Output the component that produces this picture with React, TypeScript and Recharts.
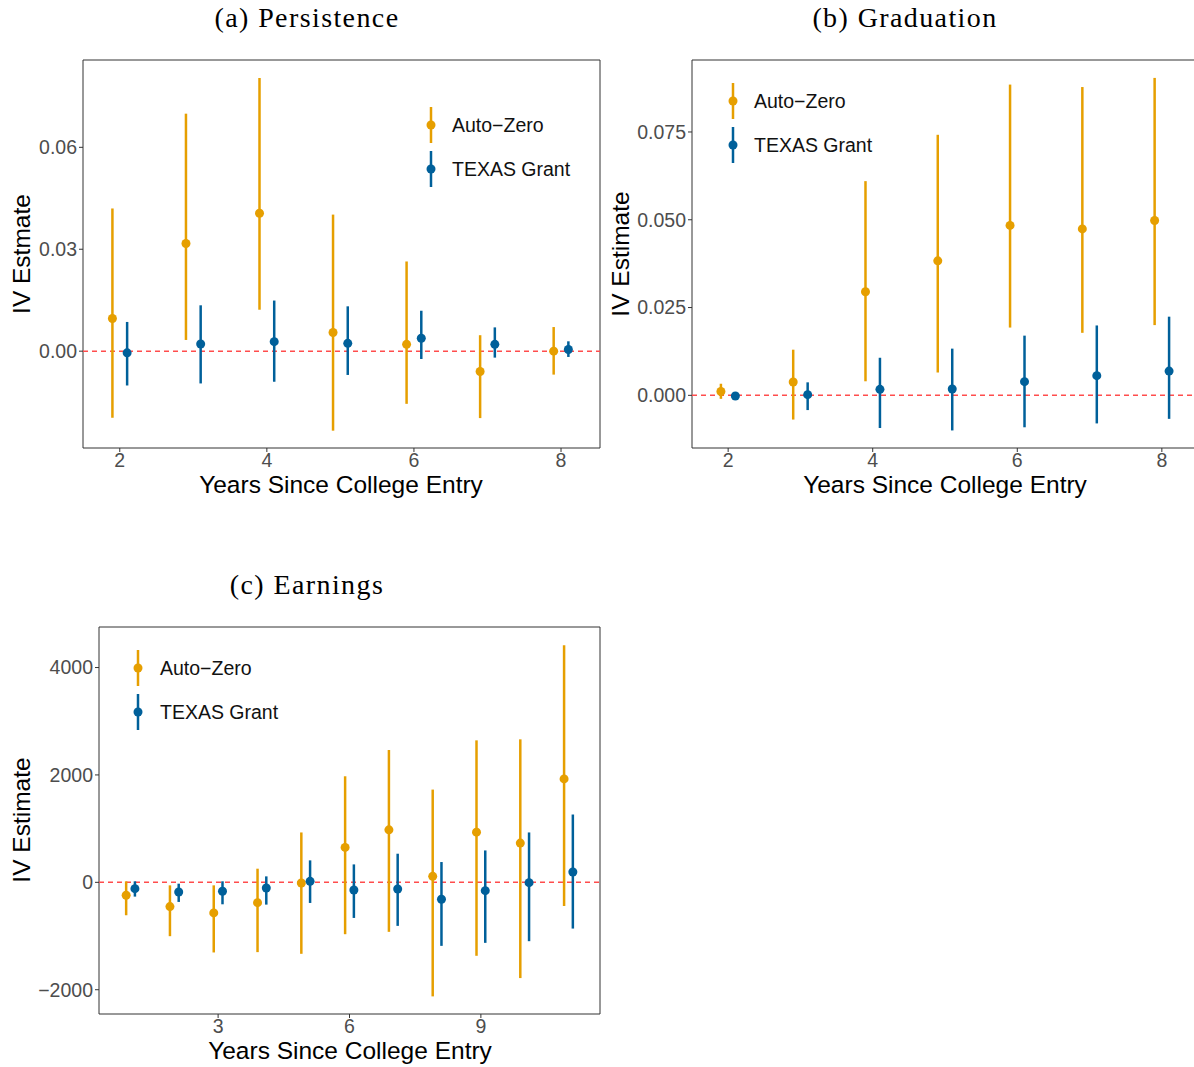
import { ScatterChart, Scatter, XAxis, YAxis, ErrorBar, ReferenceLine, ReferenceArea } from "recharts";

// years since college entry
const yearsShort = [2, 3, 4, 5, 6, 7, 8];
const yearsLong = [1, 2, 3, 4, 5, 6, 7, 8, 9, 10, 11];

// (a) Persistence
const persistAutoEst = [0.0096, 0.0317, 0.0406, 0.0055, 0.002, -0.006, 0.0];
const persistAutoLow = [-0.0196, 0.0033, 0.0122, -0.0234, -0.0155, -0.0197, -0.0069];
const persistAutoHigh = [0.042, 0.0699, 0.0804, 0.0402, 0.0264, 0.0047, 0.0071];
const persistTexasEst = [-0.0005, 0.0021, 0.0028, 0.0023, 0.0038, 0.002, 0.0005];
const persistTexasLow = [-0.0101, -0.0095, -0.009, -0.007, -0.0023, -0.0019, -0.0017];
const persistTexasHigh = [0.0086, 0.0135, 0.0149, 0.0132, 0.0119, 0.007, 0.0029];

// (b) Graduation
const gradAutoEst = [0.0011, 0.0038, 0.0295, 0.0383, 0.0484, 0.0474, 0.0498];
const gradAutoLow = [-0.001, -0.0069, 0.004, 0.0065, 0.0193, 0.0178, 0.02];
const gradAutoHigh = [0.0033, 0.013, 0.061, 0.0742, 0.0885, 0.0878, 0.0904];
const gradTexasEst = [-0.0002, 0.0002, 0.0017, 0.0018, 0.0039, 0.0056, 0.0069];
const gradTexasLow = [-0.0005, -0.0042, -0.0093, -0.01, -0.0091, -0.008, -0.0067];
const gradTexasHigh = [0.0001, 0.0037, 0.0107, 0.0133, 0.017, 0.0199, 0.0224];

// (c) Earnings
const earnAutoEst = [-241, -452, -570, -378, -12, 650, 978, 111, 935, 731, 1926];
const earnAutoLow = [-613, -1003, -1306, -1300, -1331, -966, -922, -2124, -1368, -1783, -440];
const earnAutoHigh = [19, -56, -56, 254, 929, 1975, 2464, 1727, 2644, 2663, 4415];
const earnTexasEst = [-118, -180, -167, -105, 19, -142, -124, -316, -155, -6, 192];
const earnTexasLow = [-266, -365, -409, -415, -384, -663, -811, -1183, -1127, -1096, -861];
const earnTexasHigh = [19, -25, 19, 111, 409, 334, 533, 378, 594, 929, 1263];

const ORANGE = "#E69F00";
const BLUE = "#00609A";
const SANS = "'Liberation Sans', Arial, sans-serif";
const SERIF = "'Liberation Serif', 'Times New Roman', serif";
const TICK_SIZE = 19.5;

const rows = (years: number[], est: number[], lo: number[], hi: number[], shift: number) =>
  years.map((yr, i) => ({ x: yr + shift, y: est[i], err: [est[i] - lo[i], hi[i] - est[i]] }));

const minus = (v: number, digits: number) => v.toFixed(digits).replace("-", "\u2212");

type PanelProps = {
  left: number;
  top: number;
  yAxisWidth: number;
  marginTop: number;
  marginRight: number;
  marginBottom: number;
  xDomain: [number, number];
  yDomain: [number, number];
  xTicks: number[];
  yTicks: number[];
  digits: number;
  auto: { x: number; y: number; err: number[] }[];
  texas: { x: number; y: number; err: number[] }[];
};

const dot = (color: string) => (p: any) => <circle cx={p.cx} cy={p.cy} r={4.5} fill={color} />;

const tickStyle = { fill: "#4D4D4D", fontSize: TICK_SIZE, fontFamily: SANS };

function Panel(p: PanelProps) {
  return (
    <div style={{ position: "absolute", left: p.left, top: p.top }}>
      <ScatterChart
        width={610}
        height={510}
        margin={{ top: p.marginTop, right: p.marginRight, bottom: p.marginBottom, left: 0 }}
      >
        <XAxis
          type="number"
          dataKey="x"
          domain={p.xDomain}
          ticks={p.xTicks}
          allowDataOverflow
          height={40}
          axisLine={false}
          tickLine={{ stroke: "#333" }}
          tickSize={4}
          tickMargin={1}
          fontSize={TICK_SIZE}
          tick={tickStyle}
        />
        <YAxis
          type="number"
          dataKey="y"
          domain={p.yDomain}
          ticks={p.yTicks}
          allowDataOverflow
          width={p.yAxisWidth}
          axisLine={false}
          tickLine={{ stroke: "#333" }}
          tickSize={4}
          tickMargin={2}
          fontSize={TICK_SIZE}
          tickFormatter={(v: number) => minus(v, p.digits)}
          tick={tickStyle}
        />
        <ReferenceLine y={0} stroke="#FF4D4D" strokeWidth={1.5} strokeDasharray="5 4" />
        <Scatter data={p.auto} fill={ORANGE} shape={dot(ORANGE)} isAnimationActive={false}>
          <ErrorBar dataKey="err" direction="y" width={0} stroke={ORANGE} strokeWidth={2.5} isAnimationActive={false} />
        </Scatter>
        <Scatter data={p.texas} fill={BLUE} shape={dot(BLUE)} isAnimationActive={false}>
          <ErrorBar dataKey="err" direction="y" width={0} stroke={BLUE} strokeWidth={2.5} isAnimationActive={false} />
        </Scatter>
        <ReferenceArea
          x1={p.xDomain[0]}
          x2={p.xDomain[1]}
          y1={p.yDomain[0]}
          y2={p.yDomain[1]}
          fill="none"
          fillOpacity={0}
          stroke="#333"
          strokeWidth={1}
          ifOverflow="visible"
        />
      </ScatterChart>
    </div>
  );
}

function Legend({ x, y, textX }: { x: number; y: number; textX: number }) {
  const item = (cy: number, color: string, label: string) => (
    <>
      <svg style={{ position: "absolute", left: x - 10, top: cy - 18 }} width={20} height={36}>
        <line x1={10} x2={10} y1={0} y2={36} stroke={color} strokeWidth={2.5} />
        <circle cx={10} cy={18} r={4.5} fill={color} />
      </svg>
      <div
        style={{
          position: "absolute",
          left: textX,
          top: cy - 12,
          height: 24,
          lineHeight: "24px",
          fontFamily: SANS,
          fontSize: 19.5,
          color: "#111",
          whiteSpace: "nowrap",
        }}
      >
        {label}
      </div>
    </>
  );
  return (
    <>
      {item(y, ORANGE, "Auto\u2212Zero")}
      {item(y + 44, BLUE, "TEXAS Grant")}
    </>
  );
}

function Text({ cx, cy, size, font, spacing, children, rotate }: any) {
  return (
    <div
      style={{
        position: "absolute",
        left: cx - 300,
        top: cy - 20,
        width: 600,
        height: 40,
        lineHeight: "40px",
        textAlign: "center",
        fontFamily: font,
        fontSize: size,
        letterSpacing: spacing,
        color: "#000",
        whiteSpace: "nowrap",
        transform: rotate ? "rotate(-90deg)" : undefined,
      }}
    >
      {children}
    </div>
  );
}

export default function App() {
  return (
    <div
      style={{
        position: "absolute",
        left: 0,
        top: 0,
        width: 1194,
        height: 1067,
        overflow: "hidden",
        background: "#fff",
      }}
    >
      <Panel
        left={0}
        top={0}
        yAxisWidth={83}
        marginTop={60}
        marginRight={10}
        marginBottom={22}
        xDomain={[1.5, 8.53]}
        yDomain={[-0.0285, 0.0857]}
        xTicks={[2, 4, 6, 8]}
        yTicks={[0, 0.03, 0.06]}
        digits={2}
        auto={rows(yearsShort, persistAutoEst, persistAutoLow, persistAutoHigh, -0.1)}
        texas={rows(yearsShort, persistTexasEst, persistTexasLow, persistTexasHigh, 0.1)}
      />
      <Panel
        left={600}
        top={0}
        yAxisWidth={92}
        marginTop={60}
        marginRight={12}
        marginBottom={22}
        xDomain={[1.5, 8.5]}
        yDomain={[-0.015, 0.0955]}
        xTicks={[2, 4, 6, 8]}
        yTicks={[0, 0.025, 0.05, 0.075]}
        digits={3}
        auto={rows(yearsShort, gradAutoEst, gradAutoLow, gradAutoHigh, -0.1)}
        texas={rows(yearsShort, gradTexasEst, gradTexasLow, gradTexasHigh, 0.1)}
      />
      <Panel
        left={0}
        top={560}
        yAxisWidth={99}
        marginTop={67}
        marginRight={10}
        marginBottom={16}
        xDomain={[0.28, 11.72]}
        yDomain={[-2452, 4755]}
        xTicks={[3, 6, 9]}
        yTicks={[-2000, 0, 2000, 4000]}
        digits={0}
        auto={rows(yearsLong, earnAutoEst, earnAutoLow, earnAutoHigh, -0.1)}
        texas={rows(yearsLong, earnTexasEst, earnTexasLow, earnTexasHigh, 0.1)}
      />

      <Legend x={431} y={125} textX={452} />
      <Legend x={733} y={101} textX={754} />
      <Legend x={138} y={668} textX={160} />

      <Text cx={307} cy={18} size={28} spacing={1.4} font={SERIF}>(a) Persistence</Text>
      <Text cx={905} cy={18} size={28} spacing={1.4} font={SERIF}>(b) Graduation</Text>
      <Text cx={307} cy={585} size={28} spacing={1.4} font={SERIF}>(c) Earnings</Text>

      <Text cx={341} cy={485} size={24.5} font={SANS}>Years Since College Entry</Text>
      <Text cx={945} cy={485} size={24.5} font={SANS}>Years Since College Entry</Text>
      <Text cx={350} cy={1051} size={24.5} font={SANS}>Years Since College Entry</Text>

      <Text cx={22} cy={254} size={24.5} font={SANS} rotate>IV Estmate</Text>
      <Text cx={621} cy={254} size={24.5} font={SANS} rotate>IV Estimate</Text>
      <Text cx={22} cy={820} size={24.5} font={SANS} rotate>IV Estimate</Text>
    </div>
  );
}
